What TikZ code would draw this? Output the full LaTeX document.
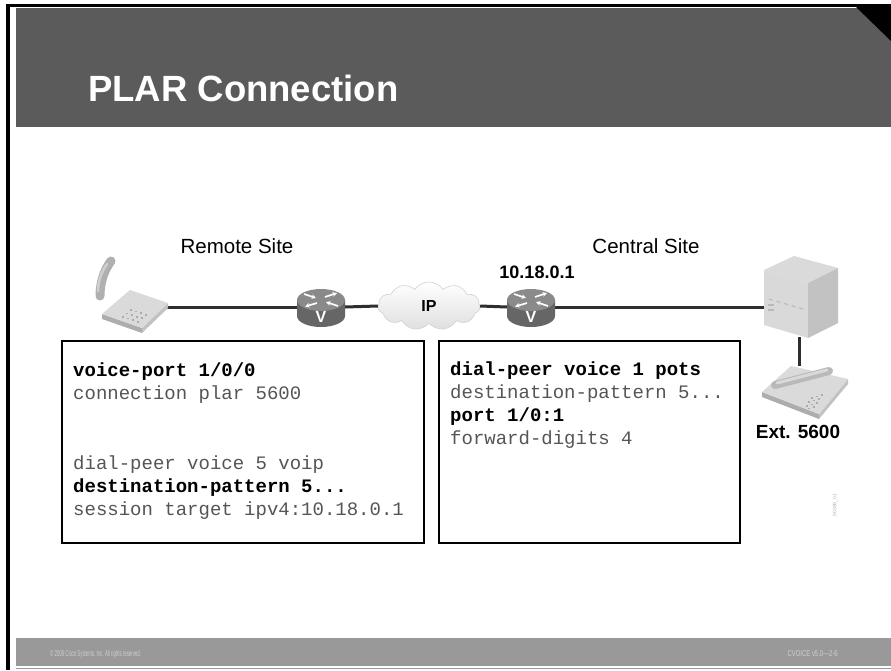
\documentclass[tikz,border=0pt]{standalone}
\usepackage{fontspec}
\setmainfont{Liberation Sans}
\newfontfamily\codefont{Liberation Mono}
\usetikzlibrary{shapes.symbols,arrows.meta}

\definecolor{headgray}{HTML}{5B5B5B}
\definecolor{footgray}{HTML}{999999}
\definecolor{foottext}{HTML}{CFCFCF}
\definecolor{wire}{HTML}{2E2E2E}
\definecolor{routerbody}{HTML}{666666}
\definecolor{routertop}{HTML}{8A8A8A}
\definecolor{devtop}{HTML}{DADADA}
\definecolor{devside}{HTML}{ADADAD}
\definecolor{devside2}{HTML}{C2C2C2}
\definecolor{codegray}{HTML}{555555}

\tikzset{
  wireline/.style={draw=wire, line width=3pt},
  slot/.style={inner sep=0pt, outer sep=0pt},
  sitelabel/.style={font=\fontsize{20.5}{22}\selectfont, text=black},
  boldlabel/.style={font=\bfseries\fontsize{19}{22}\selectfont, text=black},
  codebox/.style={draw=black, line width=2.6pt, fill=white},
  codebold/.style={anchor=base west, inner sep=0pt, font=\codefont\bfseries\fontsize{19}{23}\selectfont, text=black},
  codeplain/.style={anchor=base west, inner sep=0pt, font=\codefont\fontsize{19}{23}\selectfont, text=codegray},
  rarrow/.style={white, line width=1.7pt, -{Stealth[length=4.5pt,width=4.5pt]}},
  router/.pic={
    \fill[routerbody] (-24,-7) -- (-24,9) arc[start angle=180, end angle=0, x radius=24, y radius=11] -- (24,-7) -- cycle;
    \fill[routertop] (0,-7) ellipse[x radius=24, y radius=11];
    \draw[rarrow] (-17,-13) -- (-5,-9);
    \draw[rarrow] (17,-1) -- (5,-5);
    \draw[rarrow] (-4,-4) -- (-16,-0.5);
    \draw[rarrow] (4,-10) -- (16,-14);
    \node[text=white, font=\bfseries\fontsize{16}{16}\selectfont] at (0,10) {V};
  }
}

\begin{document}
\begin{tikzpicture}[x=1pt, y=-1pt]
  \useasboundingbox (0,0) rectangle (891,670);
  \fill[white] (0,0) rectangle (891,670);

  % slide frame
  \fill[headgray] (16,8) rectangle (891,127);
  \fill[black] (856,7) -- (891,7) -- (891,41) -- cycle;
  \draw[black, line width=3pt] (6,5) -- (891,5);
  \draw[black, line width=4pt] (8,4) -- (8,670);
  \fill[footgray] (16,638) rectangle (891,666);
  \draw[gray!80, line width=1pt] (16,668.5) -- (891,668.5);
  \node[anchor=base west, inner sep=0pt, text=white, font=\bfseries\fontsize{36.5}{40}\selectfont] (title) at (88,101) {PLAR Connection};
  \node[anchor=west, inner sep=0pt, text=foottext, font=\fontsize{8.5}{9}\selectfont] (copy) at (50,654) {\scalebox{0.51}[1]{© 2006 Cisco Systems, Inc. All rights reserved.}};
  \node[anchor=east, inner sep=0pt, text=foottext, font=\fontsize{8.5}{9}\selectfont] (course) at (838,654) {\scalebox{0.7}[1]{CVOICE v5.0—2-6}};

  % device slots
  \node[slot, minimum width=66, minimum height=40] (phL) at (134,307) {};
  \node[slot, minimum width=48, minimum height=36] (r1) at (321,307) {};
  \node[cloud, cloud puffs=11, cloud puff arc=110, aspect=2.2, minimum width=102, minimum height=48,
        top color=white, bottom color=gray!25, draw=gray!35, line width=0.6pt,
        font=\bfseries\fontsize{16}{16}\selectfont, inner sep=0pt] (ipcloud) at (429,306) {IP};
  \node[slot, minimum width=48, minimum height=36] (r2) at (531,307) {};
  \node[slot, minimum width=74, minimum height=82] (pbx) at (801,297) {};
  \node[slot, minimum width=86, minimum height=52] (phR) at (805,392) {};

  % links
  \draw[wireline] (phL.east) -- (r1.west);
  \draw[wireline] (r1.east) -- (ipcloud.west);
  \draw[wireline] (ipcloud.east) -- (r2.west);
  \draw[wireline] (r2.east) -- (r2.east -| pbx.west);
  \draw[wireline] (799,337) -- (phR.north -| 799,0);

  % routers
  \pic at (r1) {router};
  \pic at (r2) {router};

  % remote phone
  \draw[line width=9pt, line cap=round, color=gray!62] (100,296) .. controls (100,281) and (105,269) .. (111,261);
  \draw[line width=2.5pt, line cap=round, color=gray!38] (98,291) .. controls (98,281) and (102,271) .. (107,264);
  \fill[devside] (102,314) -- (142,328) -- (142,333) -- (102,319) -- cycle;
  \fill[devside2] (142,328) -- (168,303) -- (168,308) -- (142,333) -- cycle;
  \fill[devtop] (102,314) -- (130,290) -- (168,303) -- (142,328) -- cycle;
  \foreach \i in {0,1,2} \foreach \j in {0,1,2,3}
    \fill[gray!65] (122+\j*5+\i*4, 316+\j*1.6-\i*3.5) rectangle ++(2.2,1.8);

  % central PBX
  \fill[devtop] (764,270) -- (794,256) -- (838,268) -- (808,283) -- cycle;
  \fill[gray!30] (764,270) -- (808,283) -- (808,338) -- (764,325) -- cycle;
  \fill[devside2] (808,283) -- (838,268) -- (838,323) -- (808,338) -- cycle;
  \foreach \k in {0,...,4}
    \draw[gray!55, line width=1pt] (769+\k*7.5,299+\k*2.2) -- ++(4,1.2);
  \foreach \k in {0,1}
    \fill[gray!55] (768,304+\k*5) rectangle ++(6,2);

  % extension phone
  \fill[devside] (762,392) -- (819,414) -- (819,419) -- (762,397) -- cycle;
  \fill[devside2] (819,414) -- (848,379) -- (848,384) -- (819,419) -- cycle;
  \fill[devtop] (762,392) -- (791,366) -- (848,379) -- (819,414) -- cycle;
  \draw[line width=8pt, line cap=round, color=gray!55] (775,385) -- (829,371);
  \draw[line width=3pt, line cap=round, color=gray!30] (777,383) -- (827,370);
  \foreach \i in {0,1,2} \foreach \j in {0,1,2,3}
    \fill[gray!65] (803+\i*5+\j*2.5, 409-\i*1.5-\j*4) rectangle ++(2.2,1.8);

  % labels
  \node[sitelabel] (remote) at (237,246) {Remote Site};
  \node[sitelabel] (central) at (646,246) {Central Site};
  \node[boldlabel, font=\bfseries\fontsize{18}{20}\selectfont] (addr) at (537,272) {10.18.0.1};
  \node[boldlabel] (ext) at (798,432) {Ext. 5600};
  \node[rotate=90, text=gray!60, font=\fontsize{5}{5}\selectfont, inner sep=0pt] (figid) at (835,505) {00389\_01};

  % remote router configuration
  \draw[codebox] (62,341) rectangle (424,543);
  \node[codebold]  (rc1) at (73,376)   {voice-port 1/0/0};
  \node[codeplain] (rc2) at (73,399.3) {connection plar 5600};
  \node[codeplain] (rc3) at (73,469.2) {dial-peer voice 5 voip};
  \node[codebold]  (rc4) at (73,492.5) {destination-pattern 5...};
  \node[codeplain] (rc5) at (73,515.8) {session target ipv4:10.18.0.1};

  % central router configuration
  \draw[codebox] (439,341) rectangle (740,543);
  \node[codebold]  (cc1) at (450,375) {dial-peer voice 1 pots};
  \node[codeplain] (cc2) at (450,398) {destination-pattern 5...};
  \node[codebold]  (cc3) at (450,421) {port 1/0:1};
  \node[codeplain] (cc4) at (450,444) {forward-digits 4};
\end{tikzpicture}
\end{document}
